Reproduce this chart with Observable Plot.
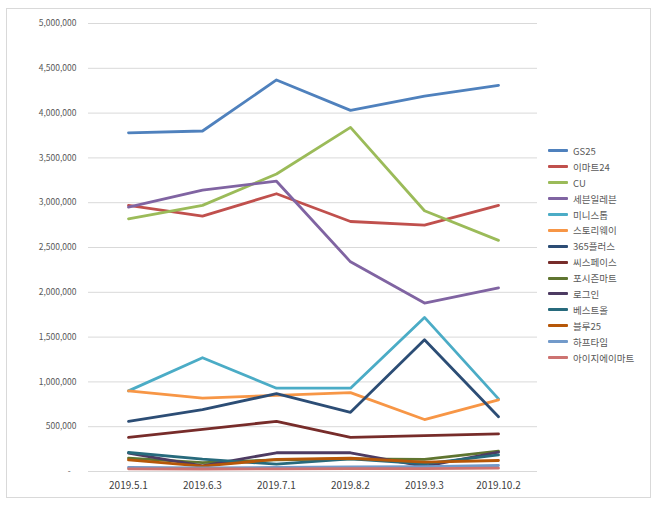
<!DOCTYPE html>
<html>
<head>
<meta charset="utf-8">
<script src="https://cdn.jsdelivr.net/npm/d3@7"></script>
<script src="https://cdn.jsdelivr.net/npm/@observablehq/plot@0.6"></script>
<style>
  html, body { margin: 0; padding: 0; background: #fff; }
  #wrap { position: relative; width: 660px; height: 506px; font-family: "Noto Sans CJK KR", "Noto Sans", sans-serif; }
  #frame { position: absolute; left: 6px; top: 8px; width: 645px; height: 490px; border: 1px solid #d9d9d9; box-sizing: border-box; pointer-events: none; }
  #chart { position: absolute; left: 0; top: 0; }
  #legend { position: absolute; left: 548px; top: 143px; }
  .item { height: 15.9px; display: flex; align-items: center; font-size: 9.5px; color: #595959; white-space: nowrap; }
  .sw { width: 20px; height: 3px; margin-right: 5px; border-radius: 1px; }
</style>
</head>
<body>
<div id="wrap">
  <div id="chart"></div>
  <div id="legend"></div>
  <div id="frame"></div>
</div>
<script>
const dates = ["2019.5.1", "2019.6.3", "2019.7.1", "2019.8.2", "2019.9.3", "2019.10.2"];
const seriesNames = ["GS25", "이마트24", "CU", "세븐일레븐", "미니스톱", "스토리웨이", "365플러스", "씨스페이스", "포시즌마트", "로그인", "베스트올", "블루25", "하프타임", "아이지에이마트"];
const seriesColors = ["#4F81BD", "#C0504D", "#9BBB59", "#8064A2", "#4BACC6", "#F79646", "#2C4D75", "#772C2A", "#5F7530", "#4D3B62", "#276A7C", "#B65708", "#729ACA", "#CD7371"];

const gs25        = [3780000, 3800000, 4370000, 4030000, 4190000, 4310000];
const emart24     = [2970000, 2850000, 3100000, 2790000, 2750000, 2970000];
const cu          = [2820000, 2970000, 3320000, 3840000, 2910000, 2580000];
const sevenEleven = [2950000, 3140000, 3240000, 2340000, 1880000, 2050000];
const ministop    = [900000, 1270000, 930000, 930000, 1720000, 810000];
const storyway    = [900000, 820000, 850000, 880000, 580000, 800000];
const plus365     = [560000, 690000, 870000, 660000, 1470000, 610000];
const cspace      = [380000, 470000, 560000, 380000, 400000, 420000];
const fourSeason  = [150000, 100000, 130000, 140000, 135000, 227000];
const login       = [205000, 64000, 209000, 209000, 56000, 215000];
const bestall     = [212000, 137000, 82000, 140000, 85000, 186000];
const blue25      = [130000, 60000, 135000, 148000, 104000, 123000];
const halftime    = [45000, 40000, 45000, 50000, 55000, 67000];
const igamart     = [30000, 28000, 30000, 32000, 33000, 37000];

const seriesValues = [gs25, emart24, cu, sevenEleven, ministop, storyway, plus365, cspace, fourSeason, login, bestall, blue25, halftime, igamart];

const yTicks = [0, 500000, 1000000, 1500000, 2000000, 2500000, 3000000, 3500000, 4000000, 4500000, 5000000];

const rows = [];
seriesNames.forEach((name, i) => {
  seriesValues[i].forEach((v, j) => rows.push({ series: name, date: dates[j], value: v }));
});

const chart = Plot.plot({
  width: 660,
  height: 506,
  marginLeft: 88,
  marginRight: 123,
  marginTop: 23,
  marginBottom: 35,
  style: { fontFamily: "'Noto Sans CJK KR', 'Noto Sans', sans-serif", background: "transparent" },
  x: { type: "point", domain: dates, padding: 0.5, label: null },
  y: { domain: [0, 5000000], label: null },
  color: { domain: seriesNames, range: seriesColors },
  marks: [
    Plot.gridY(yTicks, { stroke: "#d9d9d9", strokeOpacity: 1, strokeWidth: 1 }),
    Plot.axisY(yTicks, {
      tickSize: 0, tickPadding: 12, fontSize: 8.5, fill: "#595959",
      tickFormat: d => d === 0 ? "-   " : d3.format(",")(d)
    }),
    Plot.axisX({ tickSize: 0, tickPadding: 10, fontSize: 10, fill: "#404040", label: null }),
    Plot.line(rows, {
      x: "date", y: "value", z: "series", stroke: "series",
      strokeWidth: 2.8, strokeLinejoin: "round", strokeLinecap: "round"
    })
  ]
});
document.getElementById("chart").appendChild(chart);

const legend = document.getElementById("legend");
seriesNames.forEach((name, i) => {
  const item = document.createElement("div");
  item.className = "item";
  const sw = document.createElement("div");
  sw.className = "sw";
  sw.style.background = seriesColors[i];
  const t = document.createElement("span");
  t.textContent = name;
  item.appendChild(sw);
  item.appendChild(t);
  legend.appendChild(item);
});
</script>
</body>
</html>
